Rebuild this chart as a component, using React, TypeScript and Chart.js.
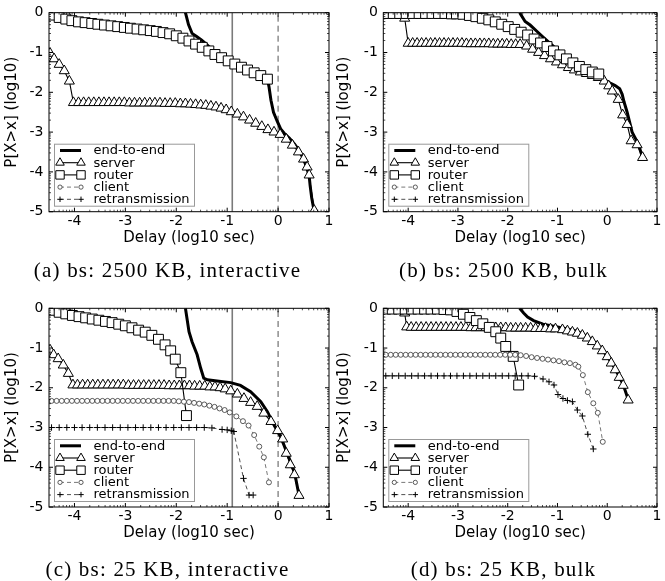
import React, { useEffect, useRef } from "react";
import { Chart, registerables } from "chart.js";

Chart.register(...registerables);

// ---------------- axis / text ----------------
const X_TICKS = [-4, -3, -2, -1, 0, 1];
const Y_TICKS = [-5, -4, -3, -2, -1, 0];
const X_MIN = -4.5;
const X_MAX = 1;
const Y_MIN = -5;
const Y_MAX = 0;
const MINOR_OFFSETS = [0.301, 0.477, 0.602, 0.699, 0.778, 0.845, 0.903, 0.954];
const X_TITLE = "Delay (log10 sec)";
const Y_TITLE = "P[X>x] (log10)";
const SERIES_LABELS = ["end-to-end", "server", "router", "client", "retransmission"];
const VLINE_SOLID_X = -0.9;
const VLINE_DASHED_X = 0;
const CAPTIONS = [
  "(a) bs: 2500 KB, interactive",
  "(b) bs: 2500 KB, bulk",
  "(c) bs: 25 KB, interactive",
  "(d) bs: 25 KB, bulk",
];

// ---------------- panel (a) ----------------
const A_E2E_X = [-1.82, -1.76, -1.69, -1.6, -1.5, -1.4, -1.3, -1.2, -1.1, -1.0, -0.9, -0.8, -0.7, -0.6, -0.5, -0.4, -0.3, -0.21, -0.18, -0.14, -0.09, -0.02, 0.05, 0.12, 0.22, 0.32, 0.4, 0.47, 0.53, 0.58, 0.61, 0.63, 0.66, 0.71];
const A_E2E_Y = [0, -0.3, -0.52, -0.6, -0.69, -0.8, -0.92, -1.04, -1.13, -1.2, -1.27, -1.33, -1.39, -1.45, -1.5, -1.55, -1.6, -1.66, -1.85, -2.2, -2.5, -2.72, -2.92, -3.03, -3.15, -3.3, -3.44, -3.6, -3.78, -3.97, -4.1, -4.35, -4.65, -5.0];
const A_SERVER_X = [-4.48, -4.4, -4.3, -4.2, -4.1, -4.02, -3.92, -3.82, -3.72, -3.62, -3.52, -3.42, -3.32, -3.22, -3.12, -3.02, -2.92, -2.82, -2.72, -2.62, -2.52, -2.42, -2.32, -2.22, -2.12, -2.02, -1.92, -1.82, -1.72, -1.62, -1.52, -1.42, -1.32, -1.22, -1.12, -1.02, -0.92, -0.8, -0.68, -0.56, -0.44, -0.32, -0.2, -0.08, 0.04, 0.16, 0.28, 0.4, 0.5, 0.57, 0.61, 0.71];
const A_SERVER_Y = [-1.02, -1.16, -1.3, -1.46, -1.72, -2.26, -2.26, -2.26, -2.26, -2.26, -2.26, -2.26, -2.26, -2.26, -2.26, -2.26, -2.27, -2.27, -2.27, -2.27, -2.27, -2.27, -2.27, -2.28, -2.28, -2.28, -2.29, -2.29, -2.3, -2.31, -2.32, -2.33, -2.35, -2.37, -2.4, -2.44, -2.49, -2.55, -2.62, -2.7, -2.78, -2.86, -2.94, -3.0, -3.06, -3.18, -3.33, -3.5, -3.68, -3.88, -4.08, -4.97];
const A_ROUTER_X = [-4.43, -4.3, -4.17, -4.05, -3.92, -3.79, -3.66, -3.54, -3.41, -3.28, -3.15, -3.02, -2.9, -2.77, -2.64, -2.51, -2.39, -2.26, -2.13, -2.0, -1.87, -1.75, -1.62, -1.49, -1.36, -1.24, -1.11, -0.98, -0.85, -0.72, -0.6, -0.47, -0.34, -0.21];
const A_ROUTER_Y = [-0.06, -0.12, -0.16, -0.2, -0.23, -0.25, -0.27, -0.29, -0.31, -0.33, -0.35, -0.37, -0.39, -0.41, -0.43, -0.45, -0.47, -0.5, -0.53, -0.58, -0.64, -0.71, -0.79, -0.87, -0.96, -1.05, -1.13, -1.21, -1.29, -1.37, -1.44, -1.51, -1.58, -1.67];

// ---------------- panel (b) ----------------
const B_E2E_X = [-1.76, -1.65, -1.55, -1.42, -1.29, -1.12, -0.96, -0.8, -0.63, -0.46, -0.3, -0.15, -0.04, 0.06, 0.16, 0.25, 0.3, 0.34, 0.4, 0.45, 0.5, 0.55, 0.62, 0.71];
const B_E2E_Y = [0, -0.22, -0.31, -0.46, -0.61, -0.8, -0.98, -1.13, -1.28, -1.39, -1.49, -1.6, -1.7, -1.77, -1.83, -1.91, -2.05, -2.25, -2.5, -2.75, -3.0, -3.12, -3.28, -3.64];
const B_SERVER_X = [-4.5, -4.07, -4.0, -3.91, -3.82, -3.73, -3.64, -3.55, -3.46, -3.37, -3.28, -3.19, -3.1, -3.01, -2.92, -2.83, -2.74, -2.65, -2.56, -2.47, -2.38, -2.29, -2.2, -2.11, -2.02, -1.93, -1.84, -1.75, -1.62, -1.5, -1.38, -1.26, -1.14, -1.02, -0.9, -0.78, -0.66, -0.54, -0.42, -0.3, -0.18, -0.06, 0.03, 0.1, 0.22, 0.31, 0.4, 0.48, 0.6, 0.71];
const B_SERVER_Y = [-0.1, -0.14, -0.77, -0.77, -0.77, -0.77, -0.77, -0.77, -0.77, -0.77, -0.77, -0.77, -0.77, -0.77, -0.77, -0.78, -0.78, -0.78, -0.78, -0.78, -0.78, -0.79, -0.79, -0.79, -0.79, -0.8, -0.8, -0.8, -0.84, -0.92, -1.0, -1.08, -1.16, -1.24, -1.31, -1.38, -1.44, -1.49, -1.53, -1.58, -1.63, -1.72, -1.84, -1.97, -2.18, -2.57, -2.81, -3.22, -3.32, -3.64];
const B_ROUTER_X = [-4.43, -4.3, -4.17, -4.04, -3.91, -3.78, -3.65, -3.52, -3.39, -3.26, -3.13, -3.03, -2.9, -2.77, -2.64, -2.51, -2.38, -2.25, -2.12, -1.99, -1.86, -1.73, -1.6, -1.47, -1.34, -1.21, -1.08, -0.95, -0.82, -0.69, -0.56, -0.43, -0.3, -0.17];
const B_ROUTER_Y = [-0.02, -0.02, -0.02, -0.02, -0.02, -0.02, -0.02, -0.02, -0.02, -0.02, -0.03, -0.03, -0.04, -0.07, -0.1, -0.14, -0.18, -0.23, -0.29, -0.35, -0.42, -0.49, -0.56, -0.66, -0.76, -0.85, -0.96, -1.06, -1.16, -1.26, -1.35, -1.43, -1.49, -1.54];

// ---------------- panel (c) ----------------
const C_E2E_X = [-1.82, -1.75, -1.69, -1.59, -1.52, -1.46, -1.39, -1.2, -0.93, -0.74, -0.54, -0.34, -0.21, -0.08, 0.05, 0.18, 0.32, 0.41];
const C_E2E_Y = [0, -0.59, -0.84, -1.17, -1.51, -1.76, -1.8, -1.83, -1.87, -1.94, -2.1, -2.35, -2.6, -2.94, -3.23, -3.65, -4.11, -4.7];
const C_SERVER_X = [-4.48, -4.41, -4.32, -4.22, -4.12, -4.03, -3.94, -3.84, -3.74, -3.64, -3.54, -3.44, -3.34, -3.24, -3.14, -3.04, -2.94, -2.84, -2.74, -2.64, -2.54, -2.44, -2.34, -2.24, -2.14, -2.04, -1.94, -1.84, -1.74, -1.64, -1.54, -1.44, -1.34, -1.24, -1.14, -1.04, -0.93, -0.8, -0.67, -0.54, -0.41, -0.28, -0.14, -0.01, 0.09, 0.16, 0.24, 0.32, 0.41];
const C_SERVER_Y = [-1.05, -1.17, -1.27, -1.43, -1.64, -1.93, -1.93, -1.93, -1.93, -1.93, -1.93, -1.93, -1.93, -1.93, -1.93, -1.93, -1.94, -1.94, -1.94, -1.94, -1.94, -1.94, -1.94, -1.94, -1.95, -1.95, -1.95, -1.95, -1.95, -1.96, -1.96, -1.96, -1.98, -1.98, -2.0, -2.03, -2.08, -2.16, -2.27, -2.37, -2.47, -2.64, -2.85, -3.08, -3.29, -3.65, -3.94, -4.19, -4.71];
const C_ROUTER_X = [-4.43, -4.3, -4.17, -4.04, -3.91, -3.78, -3.65, -3.52, -3.39, -3.26, -3.13, -3.0, -2.87, -2.74, -2.61, -2.48, -2.35, -2.22, -2.11, -2.02, -1.91, -1.8];
const C_ROUTER_Y = [-0.05, -0.1, -0.14, -0.18, -0.21, -0.24, -0.27, -0.3, -0.33, -0.36, -0.4, -0.44, -0.49, -0.55, -0.6, -0.68, -0.78, -0.92, -1.07, -1.28, -1.62, -2.7];
const C_CLIENT_X = [-4.45, -4.35, -4.25, -4.15, -4.05, -3.95, -3.85, -3.75, -3.65, -3.55, -3.45, -3.35, -3.25, -3.15, -3.05, -2.95, -2.85, -2.75, -2.65, -2.55, -2.45, -2.35, -2.25, -2.15, -2.05, -1.95, -1.85, -1.75, -1.65, -1.55, -1.45, -1.35, -1.25, -1.15, -1.05, -0.95, -0.82, -0.69, -0.58, -0.47, -0.37, -0.28, -0.18];
const C_CLIENT_Y = [-2.33, -2.33, -2.33, -2.33, -2.33, -2.33, -2.33, -2.33, -2.33, -2.33, -2.33, -2.33, -2.33, -2.33, -2.33, -2.33, -2.33, -2.33, -2.33, -2.33, -2.33, -2.33, -2.33, -2.33, -2.33, -2.34, -2.35, -2.36, -2.38, -2.4, -2.42, -2.45, -2.48, -2.52, -2.56, -2.62, -2.72, -2.84, -2.95, -3.19, -3.48, -3.75, -4.38];
const C_RETX_X = [-4.45, -4.3, -4.15, -4.0, -3.85, -3.7, -3.55, -3.4, -3.25, -3.1, -2.95, -2.8, -2.65, -2.5, -2.35, -2.2, -2.05, -1.9, -1.75, -1.6, -1.45, -1.3, -1.1, -1.0, -0.92, -0.87, -0.68, -0.57, -0.49];
const C_RETX_Y = [-3.0, -3.0, -3.0, -3.0, -3.0, -3.0, -3.0, -3.0, -3.0, -3.0, -3.0, -3.0, -3.0, -3.0, -3.0, -3.0, -3.0, -3.0, -3.0, -3.0, -3.0, -3.01, -3.05, -3.06, -3.08, -3.1, -4.28, -4.7, -4.7];

// ---------------- panel (d) ----------------
const D_E2E_X = [-1.76, -1.68, -1.6, -1.48, -1.29, -1.0, -0.8, -0.63, -0.5, -0.4, -0.3, -0.2, -0.1, 0.0, 0.08, 0.16, 0.24, 0.32, 0.42];
const D_E2E_Y = [0, -0.12, -0.22, -0.31, -0.4, -0.47, -0.52, -0.57, -0.64, -0.72, -0.82, -0.93, -1.05, -1.2, -1.36, -1.52, -1.72, -1.92, -2.29];
const D_SERVER_X = [-4.5, -4.07, -4.03, -3.94, -3.84, -3.74, -3.64, -3.54, -3.44, -3.34, -3.24, -3.14, -3.04, -2.94, -2.84, -2.74, -2.64, -2.54, -2.44, -2.34, -2.24, -2.14, -2.04, -1.94, -1.84, -1.74, -1.64, -1.54, -1.44, -1.34, -1.24, -1.14, -1.04, -0.9, -0.8, -0.7, -0.6, -0.5, -0.4, -0.3, -0.2, -0.1, 0.0, 0.08, 0.16, 0.24, 0.32, 0.42];
const D_SERVER_Y = [-0.08, -0.12, -0.47, -0.48, -0.48, -0.48, -0.48, -0.48, -0.48, -0.48, -0.48, -0.48, -0.48, -0.48, -0.48, -0.49, -0.49, -0.49, -0.49, -0.49, -0.49, -0.49, -0.49, -0.5, -0.5, -0.5, -0.5, -0.5, -0.51, -0.51, -0.51, -0.52, -0.52, -0.54, -0.57, -0.6, -0.63, -0.68, -0.75, -0.84, -0.95, -1.07, -1.22, -1.38, -1.55, -1.74, -1.94, -2.31];
const D_ROUTER_X = [-4.45, -4.32, -4.19, -4.06, -3.93, -3.8, -3.67, -3.54, -3.41, -3.28, -3.15, -3.02, -2.89, -2.76, -2.63, -2.5, -2.37, -2.24, -2.14, -2.04, -1.89, -1.78];
const D_ROUTER_Y = [-0.02, -0.02, -0.02, -0.02, -0.02, -0.02, -0.02, -0.02, -0.02, -0.03, -0.04, -0.08, -0.15, -0.23, -0.31, -0.39, -0.48, -0.59, -0.75, -0.96, -1.21, -1.93];
const D_CLIENT_X = [-4.45, -4.35, -4.25, -4.15, -4.05, -3.95, -3.85, -3.75, -3.65, -3.55, -3.45, -3.35, -3.25, -3.15, -3.05, -2.95, -2.85, -2.75, -2.65, -2.55, -2.45, -2.35, -2.25, -2.15, -2.05, -1.95, -1.85, -1.74, -1.63, -1.52, -1.41, -1.3, -1.19, -1.08, -0.97, -0.86, -0.75, -0.64, -0.58, -0.49, -0.39, -0.28, -0.19, -0.09];
const D_CLIENT_Y = [-1.17, -1.17, -1.17, -1.17, -1.17, -1.17, -1.17, -1.17, -1.17, -1.17, -1.17, -1.17, -1.17, -1.17, -1.17, -1.17, -1.17, -1.17, -1.17, -1.17, -1.17, -1.17, -1.17, -1.17, -1.17, -1.17, -1.17, -1.18, -1.2, -1.23, -1.25, -1.27, -1.29, -1.31, -1.33, -1.36, -1.38, -1.42, -1.47, -1.68, -2.11, -2.39, -2.63, -3.36];
const D_RETX_X = [-4.45, -4.32, -4.19, -4.06, -3.93, -3.8, -3.67, -3.54, -3.41, -3.28, -3.15, -3.02, -2.89, -2.76, -2.63, -2.5, -2.37, -2.24, -2.11, -1.98, -1.85, -1.72, -1.59, -1.46, -1.29, -1.17, -1.07, -0.99, -0.89, -0.8, -0.7, -0.6, -0.5, -0.39, -0.28];
const D_RETX_Y = [-1.7, -1.7, -1.7, -1.7, -1.7, -1.7, -1.7, -1.7, -1.7, -1.7, -1.7, -1.7, -1.7, -1.7, -1.7, -1.7, -1.7, -1.7, -1.7, -1.7, -1.7, -1.7, -1.7, -1.71, -1.78, -1.85, -1.93, -2.17, -2.27, -2.32, -2.35, -2.56, -2.71, -3.17, -3.54];

// ---------------- styles & layout ----------------
const FONT = "'DejaVu Sans', sans-serif";
const PAGE_W = 665;
const PAGE_H = 581;
const X_AXIS_H = 38;

type Pt = { x: number; y: number };
const xy = (xs: number[], ys: number[]): Pt[] => xs.map((x, i) => ({ x, y: ys[i] }));

const STYLE: Record<string, any> = {
  e2e: { borderColor: "#000", borderWidth: 3, pointRadius: 0, marker: null },
  server: { borderColor: "#000", borderWidth: 1.1, marker: "triangle", radius: 5.8, mfill: "#fff", mstroke: "#000", mlw: 1 },
  router: { borderColor: "#000", borderWidth: 1.1, marker: "rect", radius: 7, mfill: "#fff", mstroke: "#000", mlw: 1 },
  client: { borderColor: "#555", borderWidth: 0.8, dash: [4, 3], marker: "circle", radius: 2.5, mfill: "#fff", mstroke: "#333", mlw: 0.8 },
  retx: { borderColor: "#222", borderWidth: 0.8, dash: [4, 3], marker: "cross", radius: 3.2, mfill: "#000", mstroke: "#000", mlw: 1 },
};
const LEGEND_KEYS = ["e2e", "server", "router", "client", "retx"];

type Panel = {
  area: { left: number; top: number; right: number; bottom: number };
  boxLeft: number;
  vlines: boolean;
  series: Record<string, Pt[]>;
  caption: string;
  capX: number;
  capY: number;
};

const PANELS: Panel[] = [
  {
    area: { left: 49, top: 12.7, right: 329, bottom: 211.7 }, boxLeft: 0, vlines: true,
    series: { e2e: xy(A_E2E_X, A_E2E_Y), server: xy(A_SERVER_X, A_SERVER_Y), router: xy(A_ROUTER_X, A_ROUTER_Y), client: [], retx: [] },
    caption: CAPTIONS[0], capX: 167.5, capY: 270,
  },
  {
    area: { left: 383.3, top: 12.7, right: 663, bottom: 211.7 }, boxLeft: 332, vlines: false,
    series: { e2e: xy(B_E2E_X, B_E2E_Y), server: xy(B_SERVER_X, B_SERVER_Y), router: xy(B_ROUTER_X, B_ROUTER_Y), client: [], retx: [] },
    caption: CAPTIONS[1], capX: 503.5, capY: 270,
  },
  {
    area: { left: 49, top: 308.3, right: 329, bottom: 507 }, boxLeft: 0, vlines: true,
    series: { e2e: xy(C_E2E_X, C_E2E_Y), server: xy(C_SERVER_X, C_SERVER_Y), router: xy(C_ROUTER_X, C_ROUTER_Y), client: xy(C_CLIENT_X, C_CLIENT_Y), retx: xy(C_RETX_X, C_RETX_Y) },
    caption: CAPTIONS[2], capX: 167.5, capY: 568.5,
  },
  {
    area: { left: 383.3, top: 308.3, right: 663, bottom: 507 }, boxLeft: 332, vlines: false,
    series: { e2e: xy(D_E2E_X, D_E2E_Y), server: xy(D_SERVER_X, D_SERVER_Y), router: xy(D_ROUTER_X, D_ROUTER_Y), client: xy(D_CLIENT_X, D_CLIENT_Y), retx: xy(D_RETX_X, D_RETX_Y) },
    caption: CAPTIONS[3], capX: 503.5, capY: 568.5,
  },
];

function drawMarker(ctx: CanvasRenderingContext2D, kind: string, x: number, y: number, r: number, fill: string, stroke: string, lw: number) {
  ctx.save();
  ctx.setLineDash([]);
  ctx.lineWidth = lw;
  ctx.strokeStyle = stroke;
  ctx.fillStyle = fill;
  ctx.beginPath();
  if (kind === "triangle") {
    for (let i = 0; i < 3; i++) {
      const a = (i * 2 * Math.PI) / 3;
      const px = x + Math.sin(a) * r;
      const py = y - Math.cos(a) * r;
      if (i === 0) ctx.moveTo(px, py);
      else ctx.lineTo(px, py);
    }
    ctx.closePath();
    ctx.fill();
    ctx.stroke();
  } else if (kind === "rect") {
    const s = r * Math.SQRT1_2;
    ctx.rect(x - s, y - s, 2 * s, 2 * s);
    ctx.fill();
    ctx.stroke();
  } else if (kind === "circle") {
    ctx.arc(x, y, r, 0, Math.PI * 2);
    ctx.fill();
    ctx.stroke();
  } else if (kind === "cross") {
    ctx.moveTo(x - r, y);
    ctx.lineTo(x + r, y);
    ctx.moveTo(x, y - r);
    ctx.lineTo(x, y + r);
    ctx.stroke();
  }
  ctx.restore();
}

const decorPlugin = {
  id: "decor",
  afterDraw(chart: any) {
    const { ctx, chartArea: a, scales } = chart;
    const xs = scales.x;
    const ys = scales.y;
    ctx.save();

    // legend
    const bx = a.left + 5;
    const bh = 62;
    const bw = 140;
    const by = a.bottom - 6 - bh;
    ctx.fillStyle = "#fff";
    ctx.fillRect(bx, by, bw, bh);
    ctx.strokeStyle = "#999";
    ctx.lineWidth = 1;
    ctx.strokeRect(bx + 0.5, by + 0.5, bw, bh);
    LEGEND_KEYS.forEach((k, i) => {
      const st = STYLE[k];
      const cy = by + 6.8 + i * 12.2;
      const x0 = bx + 6;
      const x1 = bx + 27;
      ctx.save();
      ctx.strokeStyle = st.borderColor;
      ctx.lineWidth = st.borderWidth;
      ctx.setLineDash(st.dash || []);
      ctx.beginPath();
      ctx.moveTo(x0, cy);
      ctx.lineTo(x1, cy);
      ctx.stroke();
      ctx.restore();
      if (st.marker) {
        drawMarker(ctx, st.marker, x0, cy, st.radius * 0.85, st.mfill, st.mstroke, st.mlw);
        drawMarker(ctx, st.marker, x1, cy, st.radius * 0.85, st.mfill, st.mstroke, st.mlw);
      }
      ctx.fillStyle = "#000";
      ctx.font = `13px ${FONT}`;
      ctx.textAlign = "left";
      ctx.textBaseline = "middle";
      ctx.fillText(SERIES_LABELS[i], bx + 39.5, cy + 0.5);
    });

    // frame
    ctx.strokeStyle = "#000";
    ctx.lineWidth = 1;
    ctx.setLineDash([]);
    ctx.strokeRect(a.left, a.top, a.right - a.left, a.bottom - a.top);

    const tick = (x1: number, y1: number, x2: number, y2: number, w: number) => {
      ctx.lineWidth = w;
      ctx.beginPath();
      ctx.moveTo(x1, y1);
      ctx.lineTo(x2, y2);
      ctx.stroke();
    };
    // major ticks
    X_TICKS.forEach((v) => {
      const p = xs.getPixelForValue(v);
      tick(p, a.bottom, p, a.bottom - 4, 1);
      tick(p, a.top, p, a.top + 4, 1);
    });
    Y_TICKS.forEach((v) => {
      const p = ys.getPixelForValue(v);
      tick(a.left, p, a.left + 4, p, 1);
      tick(a.right, p, a.right - 4, p, 1);
    });
    // minor ticks
    for (let n = -5; n <= 0; n++) {
      MINOR_OFFSETS.forEach((o) => {
        const vx = n + o;
        if (vx > X_MIN && vx < X_MAX) {
          const p = xs.getPixelForValue(vx);
          tick(p, a.bottom, p, a.bottom - 2, 0.7);
          tick(p, a.top, p, a.top + 2, 0.7);
        }
        const vy = n + o;
        if (vy > Y_MIN && vy < Y_MAX) {
          const p = ys.getPixelForValue(vy);
          tick(a.left, p, a.left + 2, p, 0.7);
          tick(a.right, p, a.right - 2, p, 0.7);
        }
      });
    }
    ctx.restore();
  },
};

function buildDatasets(p: Panel) {
  const ds: any[] = [];
  if (p.vlines) {
    ds.push({
      data: [{ x: VLINE_SOLID_X, y: Y_MIN }, { x: VLINE_SOLID_X, y: Y_MAX }],
      borderColor: "#7a7a7a", borderWidth: 1.6, pointRadius: 0, showLine: true, order: 10, clip: 0,
    });
    ds.push({
      data: [{ x: VLINE_DASHED_X, y: Y_MIN }, { x: VLINE_DASHED_X, y: Y_MAX }],
      borderColor: "#555", borderWidth: 1, borderDash: [6, 4], pointRadius: 0, showLine: true, order: 9, clip: 0,
    });
  }
  const orders: Record<string, number> = { e2e: 5, server: 4, router: 3, client: 2, retx: 1 };
  LEGEND_KEYS.forEach((k, i) => {
    const st = STYLE[k];
    const base: any = {
      label: SERIES_LABELS[i],
      data: p.series[k],
      showLine: true,
      borderColor: st.borderColor,
      borderWidth: st.borderWidth,
      borderDash: st.dash || [],
      order: orders[k],
      clip: 0,
      tension: 0,
    };
    if (st.marker) {
      const r = st.radius;
      base.pointStyle = st.marker;
      base.pointRadius = (c: any) => (c.raw && c.raw.x <= X_MIN ? 0 : r);
      base.pointBackgroundColor = st.mfill;
      base.pointBorderColor = st.mstroke;
      base.pointBorderWidth = st.mlw;
    } else {
      base.pointRadius = 0;
    }
    ds.push(base);
  });
  return ds;
}

function PanelChart({ p }: { p: Panel }) {
  const ref = useRef<HTMLCanvasElement | null>(null);
  useEffect(() => {
    if (!ref.current) return;
    const yW = p.area.left - p.boxLeft;
    const chart = new Chart(ref.current, {
      type: "scatter",
      data: { datasets: buildDatasets(p) },
      plugins: [decorPlugin],
      options: {
        animation: false,
        responsive: false,
        devicePixelRatio: 1,
        events: [],
        layout: {
          padding: {
            left: p.boxLeft,
            top: p.area.top,
            right: PAGE_W - p.area.right,
            bottom: PAGE_H - p.area.bottom - X_AXIS_H,
          },
        },
        plugins: { legend: { display: false }, tooltip: { enabled: false }, title: { display: false } },
        scales: {
          x: {
            type: "linear",
            min: X_MIN,
            max: X_MAX,
            afterBuildTicks: (s: any) => {
              s.ticks = X_TICKS.map((v) => ({ value: v }));
            },
            afterFit: (s: any) => {
              s.height = X_AXIS_H;
              s.paddingLeft = 0;
              s.paddingRight = 0;
            },
            grid: { display: false, drawTicks: false },
            border: { display: false },
            ticks: {
              autoSkip: false,
              maxRotation: 0,
              padding: 1,
              color: "#000",
              font: { family: FONT, size: 14 },
              callback: (v: any) => String(v),
            },
            title: {
              display: true,
              text: X_TITLE,
              color: "#000",
              font: { family: FONT, size: 15 },
              padding: { top: 0, bottom: 2.5 },
            },
          },
          y: {
            type: "linear",
            min: Y_MIN,
            max: Y_MAX,
            afterBuildTicks: (s: any) => {
              s.ticks = Y_TICKS.map((v) => ({ value: v }));
            },
            afterFit: (s: any) => {
              s.width = yW;
              s.paddingTop = 0;
              s.paddingBottom = 0;
            },
            grid: { display: false, drawTicks: false },
            border: { display: false },
            ticks: {
              autoSkip: false,
              padding: 5.5,
              color: "#000",
              font: { family: FONT, size: 14 },
              callback: (v: any) => String(v),
            },
            title: {
              display: true,
              text: Y_TITLE,
              color: "#000",
              font: { family: FONT, size: 15 },
              padding: { top: 3, bottom: 0 },
            },
          },
        },
      } as any,
    });
    return () => chart.destroy();
  }, [p]);
  return (
    <canvas
      ref={ref}
      width={PAGE_W}
      height={PAGE_H}
      style={{ position: "absolute", left: 0, top: 0, width: PAGE_W, height: PAGE_H }}
    />
  );
}

export default function App() {
  return (
    <div style={{ position: "absolute", left: 0, top: 0, width: PAGE_W, height: PAGE_H, background: "#fff", overflow: "hidden" }}>
      {PANELS.map((p, i) => (
        <PanelChart key={i} p={p} />
      ))}
      {PANELS.map((p, i) => (
        <div
          key={"c" + i}
          style={{
            position: "absolute",
            left: p.capX,
            top: p.capY,
            transform: "translate(-50%, -50%)",
            fontFamily: "'Liberation Serif', 'DejaVu Serif', serif",
            fontSize: 21,
            letterSpacing: "1.2px",
            lineHeight: 1,
            whiteSpace: "nowrap",
            color: "#000",
          }}
        >
          {p.caption}
        </div>
      ))}
    </div>
  );
}
